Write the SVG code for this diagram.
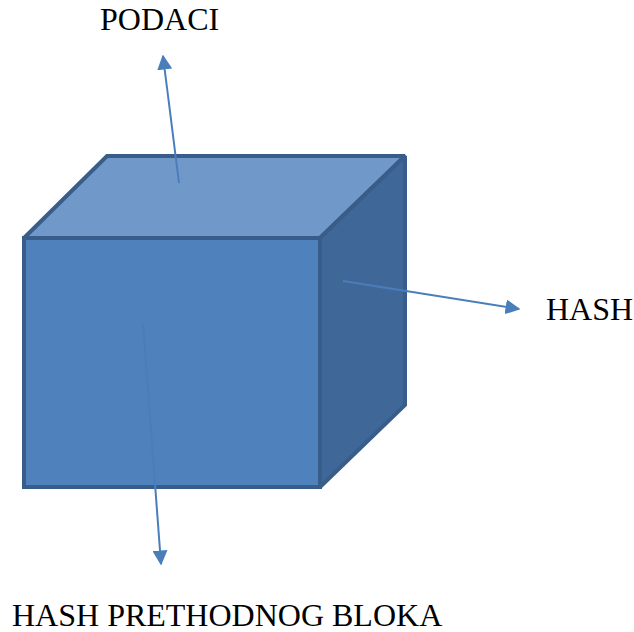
<svg xmlns="http://www.w3.org/2000/svg" width="634" height="632" viewBox="0 0 634 632">
<defs>
<style>
.face{stroke:#385D8A;stroke-width:4;stroke-linejoin:miter;stroke-miterlimit:2}
.lbl{font-family:"Liberation Serif","Times New Roman",serif;font-size:32px;fill:#000}
.conn{stroke:#4A7EBB;stroke-width:2;fill:none}
</style>
<marker id="ah" viewBox="0 0 10 10" refX="9" refY="5" markerWidth="7.5" markerHeight="7.5" markerUnits="strokeWidth" orient="auto">
<path d="M0,0 L10,5 L0,10 Z" fill="#4A7EBB"/>
</marker>
</defs>
<rect width="634" height="632" fill="#fff"/>
<g id="cube">
<polygon class="face" points="24,238 107,156 405,156 320,238" fill="#7099CA"/>
<polygon class="face" points="320,238 405,156 405,405 320,487" fill="#3F6899"/>
<rect class="face" x="24" y="238" width="296" height="249" fill="#4F81BD"/>
</g>
<g id="connectors">
<line class="conn" x1="179" y1="183" x2="163" y2="56" marker-end="url(#ah)"/>
<line class="conn" x1="343" y1="281" x2="519" y2="309" marker-end="url(#ah)"/>
<line class="conn" x1="143" y1="323" x2="161" y2="564" marker-end="url(#ah)"/>
</g>
<g id="label-podaci"><text class="lbl" x="100" y="30">PODACI</text></g>
<g id="label-hash"><text class="lbl" x="546" y="320">HASH</text></g>
<g id="label-prev"><text class="lbl" x="12" y="626">HASH PRETHODNOG BLOKA</text></g>
</svg>
